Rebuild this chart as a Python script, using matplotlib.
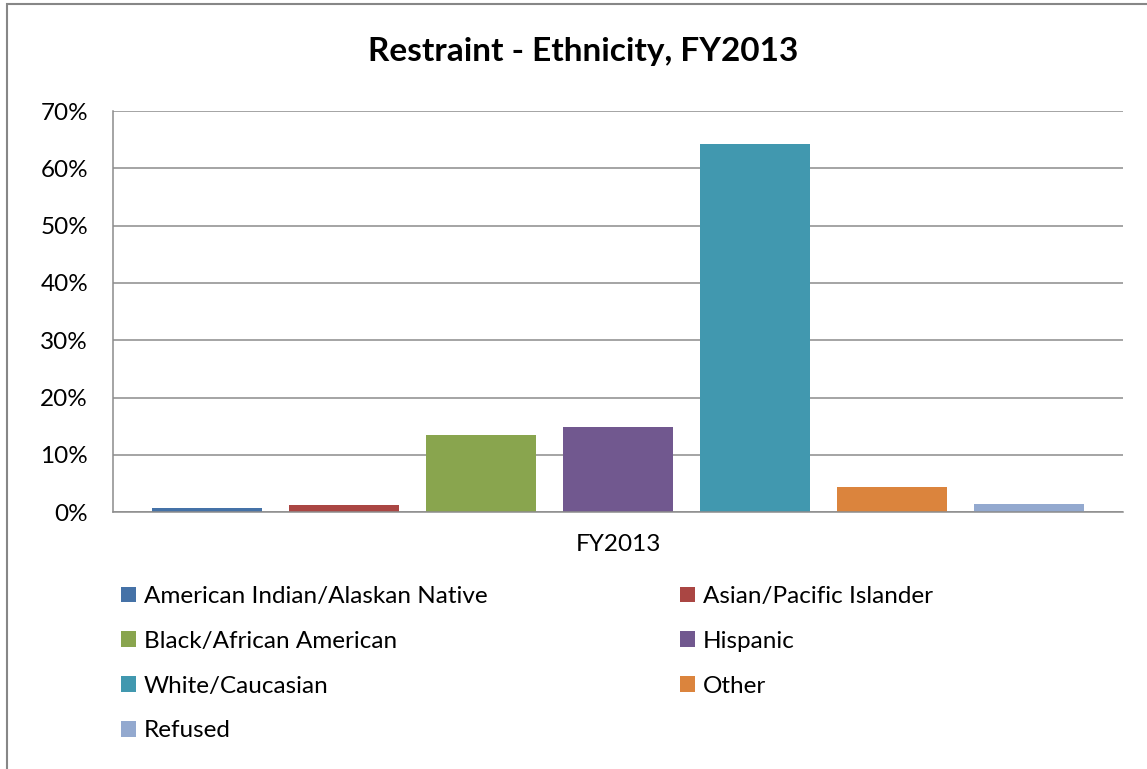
import matplotlib
matplotlib.use("Agg")
import matplotlib.pyplot as plt
from matplotlib.patches import Rectangle, Patch
from matplotlib.ticker import PercentFormatter

categories = ["FY2013"]
series_names = ["American Indian/Alaskan Native", "Asian/Pacific Islander",
                "Black/African American", "Hispanic", "White/Caucasian",
                "Other", "Refused"]
values = [0.7, 1.2, 13.4, 14.8, 64.3, 4.4, 1.4]
colors = ["#4572A7", "#AA4643", "#89A54E", "#71588F", "#4198AF", "#DB843D", "#93A9CF"]
yticks = [0, 10, 20, 30, 40, 50, 60, 70]
title = "Restraint - Ethnicity, FY2013"

plt.rcParams["font.family"] = ["Lato", "DejaVu Sans"]
W, H = 1147, 769
fig = plt.figure(figsize=(W / 100, H / 100), dpi=100)
fig.patch.set_facecolor("white")

# chart border
fig.patches.append(Rectangle((7 / W, -0.1), 1.2, 1.1 - 4 / H, transform=fig.transFigure,
                             fill=False, edgecolor="#878787", linewidth=1.5))

ax = fig.add_axes([113 / W, 1 - 512.3 / H, 1010 / W, (512.3 - 111) / H])
handles = []
for i, (name, v, c) in enumerate(zip(series_names, values, colors)):
    ax.bar(i, v, width=0.803, color=c, label=name, zorder=3)
    handles.append(Patch(facecolor=c, label=name))

ax.set_xlim(-0.686, 6.686)
ax.set_ylim(0, 70)
ax.set_yticks(yticks)
ax.yaxis.set_major_formatter(PercentFormatter(decimals=0))
ax.set_xticks([3])
ax.set_xticklabels(categories)
ax.tick_params(axis="both", length=0, labelsize=17.5, colors="black")
ax.tick_params(axis="y", pad=18)
ax.tick_params(axis="x", pad=15.5)
ax.grid(axis="y", color="#8C8C8C", linewidth=1.1, zorder=0)
for s in ["top", "right"]:
    ax.spines[s].set_visible(False)
for s in ["left", "bottom"]:
    ax.spines[s].set_color("#8C8C8C")
    ax.spines[s].set_linewidth(1.1)
    ax.spines[s].set_zorder(4)

fig.text(583 / W, 1 - 51 / H, title, ha="center", va="center",
         fontsize=24, fontweight="bold")

col1 = [0, 2, 4, 6]
col2 = [1, 3, 5]
common = dict(frameon=False, fontsize=17.5, handlelength=0.62, handleheight=0.62,
              handletextpad=0.32, labelspacing=0.98, borderaxespad=0, borderpad=0,
              loc="upper left")
leg1 = fig.legend(handles=[handles[i] for i in col1], bbox_to_anchor=(121 / W, 1 - 586 / H), **common)
leg2 = fig.legend(handles=[handles[i] for i in col2], bbox_to_anchor=(680 / W, 1 - 586 / H), **common)

fig.savefig("out.png", dpi=100, facecolor="white")
